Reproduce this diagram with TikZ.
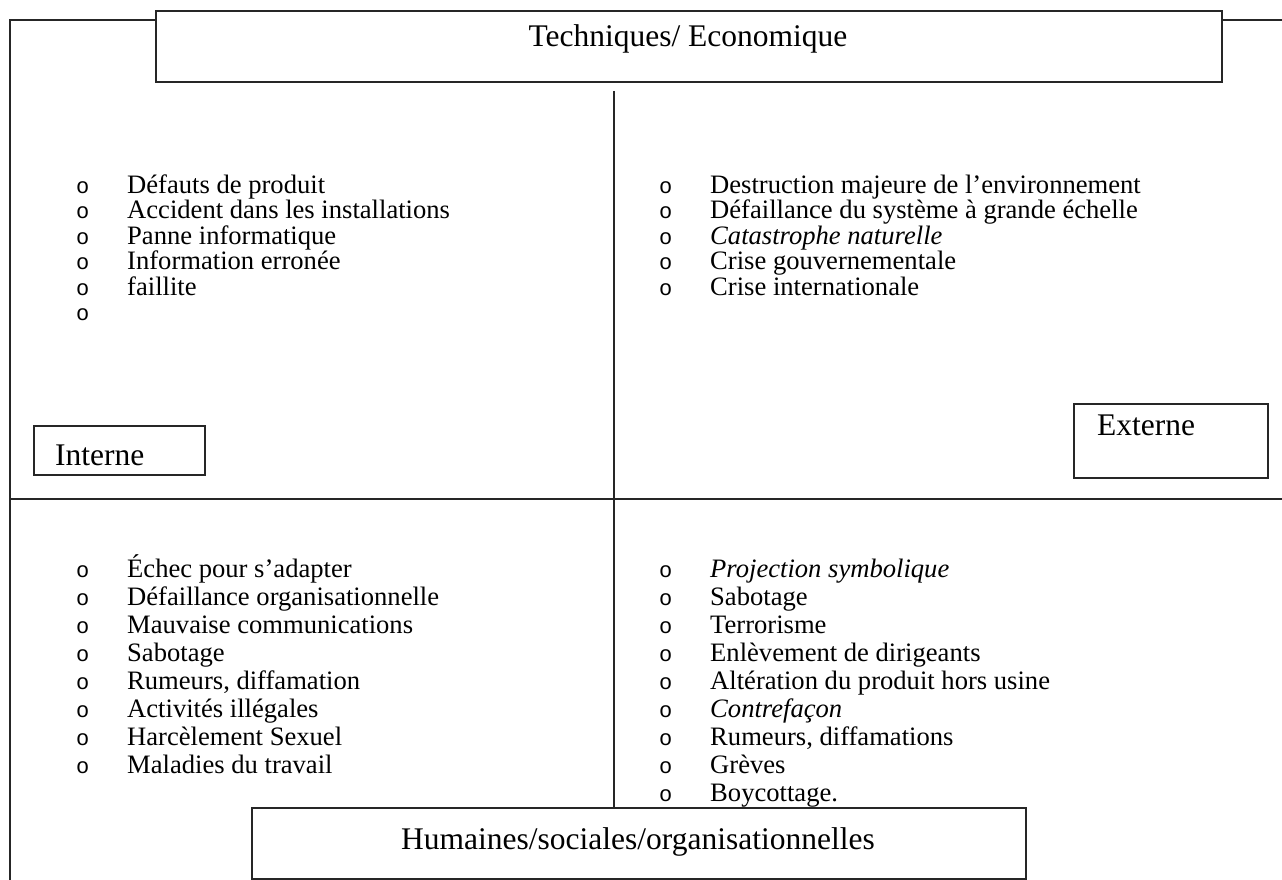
\documentclass[tikz,border=0pt]{standalone}
\usepackage{fontspec}
\setmainfont{Liberation Serif}
\newfontfamily\bulletfont{Liberation Mono}
\begin{document}
\begin{tikzpicture}[x=1pt,y=-1pt,
  frameline/.style={line width=2.2pt, black!85},
  boxstyle/.style={draw=black!85, line width=2pt, fill=white, inner sep=0pt, anchor=north west},
  item/.style={anchor=base west, inner sep=0pt, font=\fontsize{26.6}{30}\selectfont},
  bul/.style={anchor=base west, inner sep=0pt, font=\bulletfont\fontsize{22}{26}\selectfont},
  big/.style={inner sep=0pt, font=\fontsize{31.5}{36}\selectfont}]
\useasboundingbox (0,0) rectangle (1282,880);
% frame
\coordinate (fl) at (10,20);
\coordinate (fb) at (10,880);
\coordinate (fr) at (1282,20);
\coordinate (hl) at (10,499);
\coordinate (hr) at (1282,499);
\coordinate (vt) at (614,91);
\coordinate (vb) at (614,807);
\draw[frameline] (fb) -- (fl) -- (155,20);
\draw[frameline] (1221,20) -- (fr);
\draw[frameline] (hl) -- (hr);
\draw[frameline] (vt) -- (vb);
% top-left
\foreach \y/\n/\t in {193/1/{Défauts de produit},218.5/2/{Accident dans les installations},244/3/{Panne informatique},269.5/4/{Information erronée},295/5/{faillite}}{
  \node[bul] (tlb\n) at (76,\y) {o};
  \node[item] (tl\n) at (127,\y) {\t};
}
\node[bul] (tlb6) at (76,320.5) {o};
% top-right
\foreach \y/\n/\t in {193/1/{Destruction majeure de l’environnement},218.5/2/{Défaillance du système à grande échelle},244/3/{\textit{Catastrophe naturelle}},269.5/4/{Crise gouvernementale},295/5/{Crise internationale}}{
  \node[bul] (trb\n) at (659,\y) {o};
  \node[item] (tr\n) at (710,\y) {\t};
}
% bottom-left
\foreach \y/\n/\t in {577/1/{Échec pour s’adapter},605/2/{Défaillance organisationnelle},633/3/{Mauvaise communications},661/4/{Sabotage},689/5/{Rumeurs, diffamation},717/6/{Activités illégales},745/7/{Harcèlement Sexuel},773/8/{Maladies du travail}}{
  \node[bul] (blb\n) at (76,\y) {o};
  \node[item] (bl\n) at (127,\y) {\t};
}
% bottom-right
\foreach \y/\n/\t in {577/1/{\textit{Projection symbolique}},605/2/{Sabotage},633/3/{Terrorisme},661/4/{Enlèvement de dirigeants},689/5/{Altération du produit hors usine},717/6/{\textit{Contrefaçon}},745/7/{Rumeurs, diffamations},773/8/{Grèves},801/9/{Boycottage.}}{
  \node[bul] (brb\n) at (659,\y) {o};
  \node[item] (br\n) at (710,\y) {\t};
}
% boxes
\node[boxstyle, minimum width=1066pt, minimum height=71pt] (topbox) at (155,10) {};
\node[big, anchor=base] (toptext) at (688,47) {Techniques/ Economique};
\node[boxstyle, minimum width=774pt, minimum height=71pt] (botbox) at (251,807) {};
\node[big, anchor=base] (bottext) at (638,849) {Humaines/sociales/organisationnelles};
\node[boxstyle, minimum width=171pt, minimum height=49pt] (intbox) at (33,425) {};
\node[big, anchor=base west] (inttext) at (55,465) {Interne};
\node[boxstyle, minimum width=194pt, minimum height=74pt] (extbox) at (1073,403) {};
\node[big, anchor=base west] (exttext) at (1097,435) {Externe};
\end{tikzpicture}
\end{document}
